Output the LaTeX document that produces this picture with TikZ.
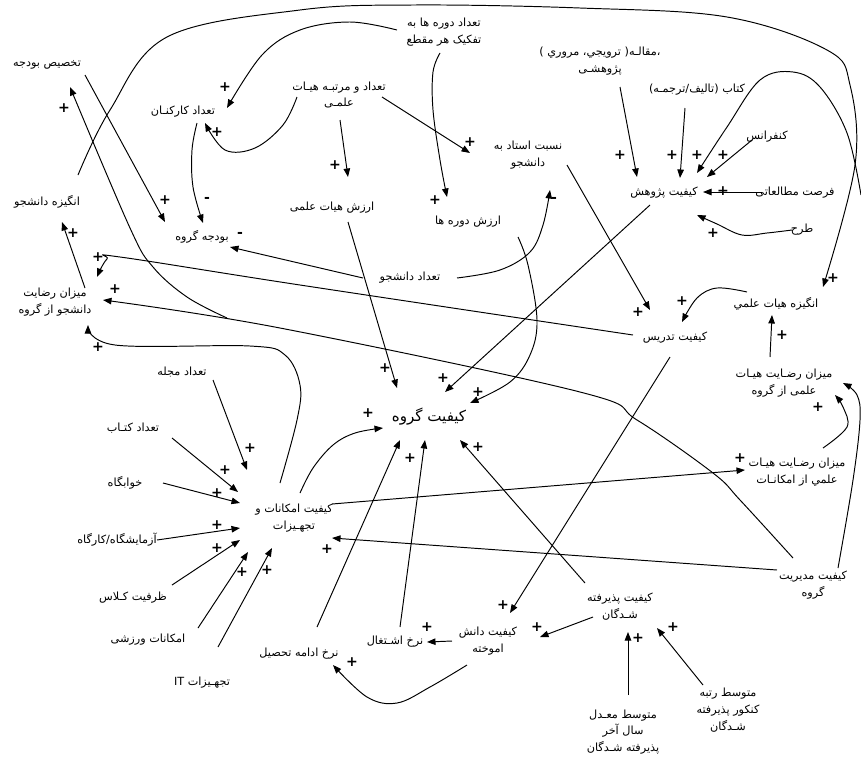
\documentclass[tikz,border=0pt]{standalone}
\usepackage{fontspec}
\usetikzlibrary{arrows.meta,calc}
\newfontfamily\arabicfont[Script=Arabic]{DejaVu Sans}
\newfontfamily\signfont{DejaVu Sans}
\TeXXeTstate=1
\newcommand{\fa}[1]{\beginR #1\endR}

\begin{document}
\begin{tikzpicture}[x=0.02cm,y=-0.02cm,
    var/.style={font=\arabicfont\fontsize{6.4}{9.6}\selectfont,align=center,inner sep=1pt},
    cl/.style={line width=0.55pt,-{Triangle[length=1.7mm,width=1.3mm]}},
    pol/.style={font=\signfont\bfseries\fontsize{8}{8}\selectfont,inner sep=0pt}]

    \useasboundingbox (0,0) rectangle (861,758);

    \node[var] (tb) at (47,65) {\fa{تخصیص بودجه}};
    \node[var] (tk) at (183,112) {\fa{تعداد کارکنـان}};
    \node[var] (thf) at (339,95) {\fa{تعداد و مرتبـه هیـات}\\\fa{علمـی}};
    \node[var] (td) at (444,32) {\fa{تعداد دوره ها به}\\\fa{تفکیک هر مقطع}};
    \node[var] (mq) at (600,61) {\fa{،مقالـه( ترويجي، مروري )}\\\fa{پژوهشـی}};
    \node[var] (kt) at (697,90) {\fa{کتاب (تالیف/ترجمـه)}};
    \node[var] (kf) at (767,137) {\fa{کنفرانس}};
    \node[var] (kp) at (664,193) {\fa{کیفیت پژوهش}};
    \node[var] (fm) at (795,193) {\fa{فرصت مطالعاتی}};
    \node[var] (tr) at (802,230) {\fa{طرح}};
    \node[var] (ns) at (528,155) {\fa{نسبت استاد به}\\\fa{دانشجو}};
    \node[var] (ah) at (332,208) {\fa{ارزش هیات علمی}};
    \node[var] (ad) at (468,222) {\fa{ارزش دوره ها}};
    \node[var] (angd) at (47,202) {\fa{انگیزه دانشجو}};
    \node[var] (bg) at (202,237) {\fa{بودجه گروه}};
    \node[var] (tdn) at (410,278) {\fa{تعداد دانشجو}};
    \node[var] (rd) at (55,302) {\fa{میزان رضایت}\\\fa{دانشجو از گروه}};
    \node[var] (angh) at (776,304) {\fa{انگیزه هیات علمي}};
    \node[var] (ktd) at (675,338) {\fa{کیفیت تدریس}};
    \node[var] (rhg) at (784,383) {\fa{میزان رضـایت هیـات}\\\fa{علمی از گروه}};
    \node[var] (tm) at (182,372) {\fa{تعداد مجله}};
    \node[var] (tkt) at (133,428) {\fa{تعداد کتـاب}};
    \node[var,font=\arabicfont\fontsize{8.6}{11}\selectfont] (kg) at (429,417) {\fa{کیفیت گروه}};
    \node[var] (kh) at (125,483) {\fa{خوابگاه}};
    \node[var] (ke) at (294,518) {\fa{کیفیت امکانات و}\\\fa{تجهـیزات}};
    \node[var] (rhe) at (797,472) {\fa{میزان رضـایت هیـات}\\\fa{علمي از امکانـات}};
    \node[var] (az) at (117,540) {\fa{آزمایشگاه/کارگاه}};
    \node[var] (zk) at (133,598) {\fa{ظرفیت کـلاس}};
    \node[var] (ev) at (148,640) {\fa{امکانات ورزشی}};
    \node[var] (km) at (813,585) {\fa{کیفیت مدیریت}\\\fa{گروه}};
    \node[var] (kpz) at (620,607) {\fa{کیفیت پذیرفته}\\\fa{شـدگان}};
    \node[var] (kda) at (488,641) {\fa{کیفیت دانش}\\\fa{اموخته}};
    \node[var] (ne) at (395,642) {\fa{نرخ اشـتغال}};
    \node[var] (nat) at (299,654) {\fa{نرخ ادامه تحصیل}};
    \node[var] (it) at (202,683) {\fa{تجهـیزات \beginL IT\endL}};
    \node[var] (mr) at (728,710) {\fa{متوسط رتبه}\\\fa{کنکور پذیرفته}\\\fa{شـدگان}};
    \node[var] (mm) at (623,732) {\fa{متوسط معـدل}\\\fa{سال آخر}\\\fa{پذیرفته شـدگان}};

    \coordinate (cf1) at (227,318);
    \coordinate (cf2) at (861,195);

    \draw[cl] ($(tb)+(38,10)$) -- ($(bg)+(-37,-15)$);
    \draw[cl] plot[smooth,tension=0.6] coordinates {(cf1) (187,297) (153,267) (130,228) ($(tb)+(23,22)$)};
    \draw[cl] plot[smooth,tension=0.6] coordinates {($(angd)+(31,-27)$) (110,110) (167,37) (300,10) (413,5) (580,8) (727,17) (827,50) (850,85) (855,165) ($(angh)+(47,-17)$)};
    \draw[cl] plot[smooth,tension=0.6] coordinates {(cf2) (847,133) (820,87) (793,72) (760,80) (727,127) ($(kp)+(33,-20)$)};
    \draw[cl] plot[smooth,tension=0.6] coordinates {($(td)+(-47,-2)$) (350,22) (300,30) (262,55) ($(tk)+(44,-4)$)};
    \draw[cl] plot[smooth,tension=0.6] coordinates {($(thf)+(-42,2)$) (283,125) (255,148) (225,150) ($(tk)+(22,11)$)};
    \draw[cl] plot[smooth,tension=0.6] coordinates {($(tk)+(14,11)$) (192,150) (193,187) ($(bg)+(1,-14)$)};
    \draw[cl] ($(thf)+(1,25)$) -- ($(ah)+(16,-31)$);
    \draw[cl] ($(thf)+(43,2)$) -- ($(ns)+(-58,-2)$);
    \draw[cl] plot[smooth,tension=0.6] coordinates {($(td)+(-4,21)$) (433,72) (433,110) (440,160) ($(ad)+(-21,-25)$)};
    \draw[cl] ($(ah)+(16,14)$) -- ($(kg)+(-32,-29)$);
    \draw[cl] plot[smooth,tension=0.6] coordinates {($(ad)+(50,15)$) (528,265) (537,320) (530,355) (510,382) ($(kg)+(41,-14)$)};
    \draw[cl] ($(tdn)+(-47,0)$) -- ($(bg)+(28,10)$);
    \draw[cl] plot[smooth,tension=0.6] coordinates {($(tdn)+(47,0)$) (500,270) (530,252) (543,225) ($(ns)+(22,35)$)};
    \draw[cl] ($(ns)+(39,10)$) -- ($(ktd)+(-25,-28)$);
    \draw[cl] ($(kp)+(-14,12)$) -- ($(kg)+(16,-25)$);
    \draw[cl] ($(mq)+(20,26)$) -- ($(kp)+(-27,-16)$);
    \draw[cl] ($(kt)+(-12,18)$) -- ($(kp)+(16,-15)$);
    \draw[cl] ($(kf)+(-15,3)$) -- ($(kp)+(43,-16)$);
    \draw[cl] ($(fm)+(-33,-1)$) -- ($(kp)+(39,-1)$);
    \draw[cl] plot[smooth,tension=0.6] coordinates {($(tr)+(-10,0)$) (767,233) (742,235) (717,224) ($(kp)+(33,22)$)};
    \draw[cl] plot[smooth,tension=0.6] coordinates {($(angh)+(-29,-12)$) (717,288) (697,298) ($(ktd)+(7,-16)$)};
    \draw[cl] ($(rhg)+(-14,-26)$) -- ($(angh)+(-4,11)$);
    \draw[cl] plot[smooth,tension=0.6] coordinates {($(rhe)+(26,-24)$) (847,427) (843,407) ($(rhg)+(51,12)$)};
    \draw[cl] plot[smooth,tension=0.6] coordinates {($(km)+(25,-17)$) (853,480) (860,420) (857,395) ($(rhg)+(59,0)$)};
    \draw[cl] ($(ke)+(38,-14)$) -- ($(rhe)+(-52,-2)$);
    \draw[cl] ($(km)+(-36,-15)$) -- ($(ke)+(38,20)$);
    \draw[cl] plot[smooth,tension=0.6] coordinates {($(km)+(-20,-27)$) (740,500) (713,473) (637,420) (580,392) (280,328) ($(rd)+(48,-2)$)};
    \draw[cl] plot[smooth,tension=0.6] coordinates {($(ktd)+(-42,-3)$) (300,285) (120,257) (107,259) ($(rd)+(42,-25)$)};
    \draw[cl] plot[smooth,tension=0.6] coordinates {($(ke)+(-14,-35)$) (297,420) (300,385) (285,355) (250,346) (115,345) ($(rd)+(33,23)$)};
    \draw[cl] ($(rd)+(30,-14)$) -- ($(angd)+(15,20)$);
    \draw[cl] ($(tm)+(31,8)$) -- ($(ke)+(-47,-48)$);
    \draw[cl] ($(tkt)+(39,10)$) -- ($(ke)+(-56,-26)$);
    \draw[cl] ($(kh)+(38,0)$) -- ($(ke)+(-54,-15)$);
    \draw[cl] ($(az)+(40,0)$) -- ($(ke)+(-54,10)$);
    \draw[cl] ($(zk)+(39,-13)$) -- ($(ke)+(-54,22)$);
    \draw[cl] ($(ev)+(50,-12)$) -- ($(ke)+(-46,34)$);
    \draw[cl] ($(it)+(16,-36)$) -- ($(ke)+(-22,30)$);
    \draw[cl] plot[smooth,tension=0.6] coordinates {($(ke)+(6,-25)$) (313,468) (333,445) (355,433) ($(kg)+(-46,11)$)};
    \draw[cl] ($(nat)+(18,-27)$) -- ($(kg)+(-29,23)$);
    \draw[cl] ($(ne)+(5,-15)$) -- ($(kg)+(-4,23)$);
    \draw[cl] ($(kda)+(-36,0)$) -- ($(ne)+(32,0)$);
    \draw[cl] plot[smooth,tension=0.6] coordinates {($(kda)+(-21,24)$) (430,687) (397,703) (367,697) ($(nat)+(34,11)$)};
    \draw[cl] ($(kpz)+(-35,-24)$) -- ($(kg)+(31,23)$);
    \draw[cl] ($(kpz)+(-27,10)$) -- ($(kda)+(52,-4)$);
    \draw[cl] ($(ktd)+(-5,19)$) -- ($(kda)+(22,-28)$);
    \draw[cl] ($(mm)+(5,-37)$) -- ($(kpz)+(8,25)$);
    \draw[cl] ($(mr)+(-25,-25)$) -- ($(kpz)+(37,21)$);

    \foreach \px/\py [count=\i] in {165/200, 64/108, 833/278, 697/155, 225/87, 217/132,
        335/165, 470/142, 435/200, 385/368, 478/392, 638/312, 443/378, 620/155, 672/155,
        723/155, 723/191, 713/233, 682/301, 782/335, 818/407, 740/458, 327/549, 115/289,
        98/257, 98/347, 73/233, 250/448, 225/470, 217/493, 217/525, 217/548, 242/572,
        267/570, 368/413, 410/458, 427/627, 352/662, 478/447, 537/627, 503/605, 638/638,
        673/627}
        \node[pol] (p\i) at (\px,\py) {+};
    \foreach \px/\py [count=\i] in {207/200, 240/235, 554/200}
        \node[pol] (m\i) at (\px,\py) {-};

\end{tikzpicture}
\end{document}
